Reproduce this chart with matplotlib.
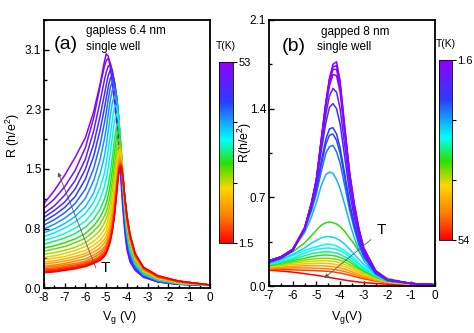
import numpy as np
import matplotlib.pyplot as plt
from matplotlib.colors import LinearSegmentedColormap, Normalize
from matplotlib.cm import ScalarMappable
from matplotlib.ticker import MultipleLocator

plt.rcParams['font.family'] = ['Liberation Sans', 'DejaVu Sans']
plt.rcParams['mathtext.default'] = 'regular'
plt.rcParams['axes.unicode_minus'] = False

# ---- data, panel (a): gapless 6.4 nm single well ----
vg_a = [-8, -7.5, -7, -6.5, -6, -5.6, -5.3, -5.1, -5.0, -4.9, -4.8, -4.7, -4.6,
        -4.5, -4.42, -4.35, -4.28, -4.2, -4.1, -4.0, -3.85, -3.6, -3.2, -2.5, -1.5, 0]
temps_a = [1.5, 2.5, 4, 5.5, 7, 8.5, 10, 12, 14, 16, 18, 20, 22, 24.5, 27, 29.5,
           32, 34.5, 37, 39.5, 42, 44.5, 47, 50, 53]
r_a = [
    [0.20, 0.21, 0.23, 0.25, 0.28, 0.32, 0.36, 0.41, 0.45, 0.52, 0.61, 0.75, 0.95, 1.22, 1.45, 1.57, 1.58, 1.45, 1.18, 0.95, 0.70, 0.45, 0.27, 0.16, 0.09, 0.04],
    [0.21, 0.22, 0.24, 0.26, 0.29, 0.33, 0.37, 0.42, 0.46, 0.53, 0.62, 0.76, 0.96, 1.23, 1.46, 1.58, 1.59, 1.45, 1.17, 0.94, 0.69, 0.44, 0.27, 0.16, 0.09, 0.04],
    [0.22, 0.23, 0.25, 0.27, 0.30, 0.34, 0.38, 0.43, 0.47, 0.54, 0.63, 0.77, 0.97, 1.24, 1.47, 1.59, 1.60, 1.46, 1.17, 0.93, 0.68, 0.44, 0.26, 0.15, 0.09, 0.04],
    [0.235, 0.245, 0.265, 0.285, 0.315, 0.355, 0.40, 0.45, 0.49, 0.56, 0.65, 0.79, 0.99, 1.26, 1.48, 1.60, 1.61, 1.46, 1.16, 0.92, 0.67, 0.43, 0.26, 0.15, 0.09, 0.04],
    [0.25, 0.26, 0.28, 0.30, 0.33, 0.37, 0.42, 0.47, 0.51, 0.58, 0.67, 0.81, 1.01, 1.28, 1.50, 1.61, 1.62, 1.46, 1.16, 0.91, 0.66, 0.42, 0.25, 0.15, 0.08, 0.04],
    [0.27, 0.28, 0.30, 0.32, 0.35, 0.40, 0.45, 0.50, 0.54, 0.61, 0.70, 0.84, 1.04, 1.31, 1.53, 1.63, 1.63, 1.47, 1.15, 0.90, 0.65, 0.42, 0.25, 0.14, 0.08, 0.04],
    [0.29, 0.30, 0.32, 0.35, 0.38, 0.43, 0.48, 0.53, 0.57, 0.64, 0.73, 0.87, 1.07, 1.34, 1.56, 1.66, 1.65, 1.48, 1.15, 0.89, 0.64, 0.41, 0.24, 0.14, 0.08, 0.04],
    [0.315, 0.33, 0.35, 0.38, 0.42, 0.47, 0.52, 0.58, 0.62, 0.69, 0.78, 0.92, 1.12, 1.39, 1.60, 1.69, 1.67, 1.49, 1.15, 0.88, 0.63, 0.40, 0.24, 0.14, 0.08, 0.04],
    [0.34, 0.355, 0.38, 0.41, 0.45, 0.51, 0.57, 0.63, 0.67, 0.75, 0.85, 0.99, 1.19, 1.45, 1.65, 1.73, 1.69, 1.49, 1.14, 0.87, 0.62, 0.40, 0.23, 0.13, 0.08, 0.04],
    [0.37, 0.39, 0.41, 0.45, 0.49, 0.56, 0.62, 0.69, 0.74, 0.82, 0.92, 1.07, 1.27, 1.52, 1.70, 1.77, 1.71, 1.50, 1.13, 0.86, 0.61, 0.39, 0.23, 0.13, 0.07, 0.04],
    [0.40, 0.42, 0.45, 0.49, 0.54, 0.61, 0.68, 0.76, 0.81, 0.90, 1.01, 1.16, 1.36, 1.60, 1.77, 1.81, 1.73, 1.50, 1.12, 0.85, 0.60, 0.38, 0.22, 0.13, 0.07, 0.04],
    [0.44, 0.46, 0.49, 0.53, 0.59, 0.67, 0.75, 0.84, 0.90, 0.99, 1.11, 1.27, 1.47, 1.70, 1.85, 1.86, 1.75, 1.50, 1.11, 0.84, 0.59, 0.37, 0.22, 0.12, 0.07, 0.04],
    [0.48, 0.51, 0.54, 0.59, 0.65, 0.74, 0.83, 0.93, 0.99, 1.09, 1.22, 1.39, 1.60, 1.82, 1.94, 1.93, 1.78, 1.50, 1.10, 0.82, 0.58, 0.36, 0.21, 0.12, 0.07, 0.04],
    [0.52, 0.55, 0.59, 0.64, 0.71, 0.81, 0.92, 1.03, 1.10, 1.21, 1.35, 1.54, 1.76, 1.97, 2.05, 1.99, 1.80, 1.49, 1.08, 0.80, 0.56, 0.35, 0.21, 0.12, 0.07, 0.04],
    [0.57, 0.61, 0.65, 0.71, 0.79, 0.90, 1.02, 1.15, 1.23, 1.35, 1.51, 1.71, 1.94, 2.12, 2.15, 2.04, 1.81, 1.48, 1.06, 0.78, 0.54, 0.34, 0.20, 0.11, 0.06, 0.04],
    [0.62, 0.66, 0.71, 0.78, 0.87, 1.00, 1.15, 1.31, 1.42, 1.57, 1.76, 1.97, 2.18, 2.27, 2.22, 2.07, 1.80, 1.45, 1.03, 0.76, 0.52, 0.33, 0.20, 0.11, 0.06, 0.04],
    [0.67, 0.72, 0.78, 0.86, 0.97, 1.12, 1.30, 1.48, 1.62, 1.80, 2.00, 2.20, 2.38, 2.36, 2.24, 2.05, 1.76, 1.40, 1.00, 0.73, 0.50, 0.32, 0.19, 0.11, 0.06, 0.04],
    [0.72, 0.77, 0.84, 0.93, 1.06, 1.24, 1.48, 1.70, 1.85, 2.05, 2.25, 2.42, 2.50, 2.44, 2.28, 2.05, 1.75, 1.38, 0.98, 0.71, 0.48, 0.31, 0.18, 0.10, 0.06, 0.04],
    [0.77, 0.83, 0.91, 1.01, 1.17, 1.40, 1.67, 1.92, 2.07, 2.27, 2.45, 2.58, 2.59, 2.50, 2.30, 2.04, 1.72, 1.34, 0.95, 0.68, 0.46, 0.29, 0.17, 0.10, 0.06, 0.04],
    [0.82, 0.89, 0.98, 1.10, 1.29, 1.56, 1.86, 2.13, 2.28, 2.46, 2.61, 2.69, 2.64, 2.50, 2.29, 2.01, 1.68, 1.30, 0.91, 0.65, 0.44, 0.28, 0.17, 0.09, 0.05, 0.04],
    [0.87, 0.95, 1.05, 1.19, 1.42, 1.72, 2.05, 2.32, 2.47, 2.62, 2.73, 2.77, 2.68, 2.50, 2.27, 1.98, 1.64, 1.26, 0.88, 0.62, 0.42, 0.27, 0.16, 0.09, 0.05, 0.04],
    [0.92, 1.01, 1.12, 1.29, 1.55, 1.88, 2.23, 2.50, 2.64, 2.77, 2.84, 2.81, 2.68, 2.47, 2.23, 1.94, 1.60, 1.22, 0.85, 0.60, 0.40, 0.26, 0.16, 0.09, 0.05, 0.04],
    [0.97, 1.07, 1.21, 1.40, 1.68, 2.05, 2.42, 2.69, 2.81, 2.89, 2.91, 2.83, 2.66, 2.43, 2.18, 1.88, 1.55, 1.18, 0.82, 0.57, 0.38, 0.25, 0.15, 0.08, 0.05, 0.04],
    [1.04, 1.16, 1.32, 1.53, 1.83, 2.22, 2.62, 2.87, 2.96, 2.99, 2.93, 2.78, 2.58, 2.33, 2.08, 1.80, 1.48, 1.12, 0.78, 0.54, 0.36, 0.24, 0.15, 0.08, 0.05, 0.04],
    [1.10, 1.27, 1.47, 1.70, 1.96, 2.30, 2.65, 2.93, 3.05, 3.02, 2.86, 2.66, 2.42, 2.15, 1.90, 1.64, 1.36, 1.04, 0.73, 0.50, 0.34, 0.23, 0.14, 0.08, 0.05, 0.04],
]

# ---- data, panel (b): gapped 8 nm single well ----
vg_b = [-7, -6.5, -6, -5.5, -5.2, -5.0, -4.8, -4.6, -4.45, -4.3, -4.15, -4.0,
        -3.8, -3.6, -3.4, -3.2, -3.0, -2.5, -2.0, -1.0, 0]
temps_b = [1.6, 2.2, 3.0, 4.0, 8, 10, 13, 14, 16, 20, 31, 22, 24, 25, 27, 30,
           34, 37, 40, 43, 46, 50, 54]
r_b = [
    [0.19, 0.22, 0.28, 0.45, 0.66, 0.84, 1.15, 1.45, 1.64, 1.75, 1.77, 1.62, 1.25, 0.90, 0.65, 0.45, 0.30, 0.12, 0.05, 0.02, 0.01],
    [0.19, 0.22, 0.28, 0.45, 0.66, 0.84, 1.15, 1.45, 1.63, 1.73, 1.74, 1.60, 1.24, 0.89, 0.64, 0.44, 0.30, 0.12, 0.05, 0.02, 0.01],
    [0.19, 0.22, 0.28, 0.45, 0.66, 0.84, 1.14, 1.44, 1.61, 1.71, 1.71, 1.57, 1.22, 0.88, 0.63, 0.44, 0.29, 0.12, 0.05, 0.02, 0.01],
    [0.19, 0.22, 0.28, 0.45, 0.66, 0.84, 1.13, 1.42, 1.58, 1.67, 1.66, 1.53, 1.19, 0.86, 0.62, 0.43, 0.29, 0.12, 0.05, 0.02, 0.01],
    [0.20, 0.23, 0.29, 0.46, 0.66, 0.83, 1.10, 1.36, 1.50, 1.56, 1.53, 1.40, 1.10, 0.80, 0.58, 0.40, 0.27, 0.11, 0.05, 0.02, 0.01],
    [0.20, 0.23, 0.29, 0.46, 0.65, 0.82, 1.06, 1.29, 1.41, 1.44, 1.40, 1.28, 1.01, 0.74, 0.54, 0.38, 0.26, 0.11, 0.05, 0.02, 0.01],
    [0.20, 0.23, 0.29, 0.45, 0.63, 0.78, 0.98, 1.16, 1.24, 1.25, 1.20, 1.09, 0.88, 0.66, 0.49, 0.35, 0.24, 0.10, 0.05, 0.02, 0.01],
    [0.20, 0.23, 0.29, 0.45, 0.62, 0.76, 0.95, 1.12, 1.19, 1.20, 1.15, 1.05, 0.85, 0.64, 0.47, 0.34, 0.24, 0.10, 0.05, 0.02, 0.01],
    [0.20, 0.23, 0.29, 0.44, 0.60, 0.73, 0.90, 1.05, 1.10, 1.11, 1.06, 0.97, 0.79, 0.60, 0.45, 0.32, 0.23, 0.10, 0.04, 0.02, 0.01],
    [0.20, 0.23, 0.29, 0.42, 0.55, 0.66, 0.79, 0.88, 0.90, 0.89, 0.84, 0.77, 0.64, 0.50, 0.38, 0.28, 0.20, 0.09, 0.04, 0.02, 0.01],
    [0.19, 0.22, 0.27, 0.34, 0.40, 0.44, 0.48, 0.50, 0.505, 0.50, 0.49, 0.47, 0.43, 0.38, 0.33, 0.27, 0.22, 0.12, 0.06, 0.02, 0.01],
    [0.18, 0.21, 0.25, 0.30, 0.34, 0.36, 0.38, 0.39, 0.39, 0.385, 0.375, 0.36, 0.33, 0.29, 0.25, 0.21, 0.17, 0.10, 0.05, 0.02, 0.01],
    [0.18, 0.20, 0.24, 0.28, 0.30, 0.31, 0.32, 0.33, 0.33, 0.325, 0.315, 0.30, 0.28, 0.25, 0.22, 0.18, 0.15, 0.09, 0.05, 0.02, 0.01],
    [0.17, 0.19, 0.22, 0.26, 0.28, 0.29, 0.295, 0.30, 0.30, 0.295, 0.29, 0.28, 0.26, 0.23, 0.20, 0.17, 0.14, 0.08, 0.04, 0.02, 0.01],
    [0.17, 0.19, 0.21, 0.24, 0.255, 0.262, 0.268, 0.27, 0.27, 0.265, 0.26, 0.25, 0.23, 0.21, 0.18, 0.15, 0.13, 0.08, 0.04, 0.02, 0.01],
    [0.16, 0.18, 0.20, 0.22, 0.232, 0.238, 0.243, 0.245, 0.244, 0.24, 0.235, 0.225, 0.21, 0.19, 0.165, 0.14, 0.12, 0.07, 0.04, 0.02, 0.01],
    [0.16, 0.17, 0.19, 0.205, 0.212, 0.216, 0.219, 0.22, 0.219, 0.216, 0.211, 0.203, 0.19, 0.17, 0.15, 0.13, 0.11, 0.07, 0.04, 0.02, 0.01],
    [0.15, 0.16, 0.18, 0.19, 0.195, 0.198, 0.20, 0.20, 0.198, 0.195, 0.19, 0.183, 0.17, 0.155, 0.135, 0.115, 0.10, 0.06, 0.035, 0.015, 0.01],
    [0.15, 0.16, 0.17, 0.175, 0.178, 0.18, 0.18, 0.179, 0.177, 0.174, 0.169, 0.163, 0.152, 0.138, 0.12, 0.105, 0.09, 0.055, 0.03, 0.015, 0.01],
    [0.14, 0.15, 0.155, 0.16, 0.161, 0.161, 0.16, 0.158, 0.156, 0.153, 0.149, 0.143, 0.133, 0.12, 0.105, 0.09, 0.078, 0.05, 0.03, 0.015, 0.01],
    [0.135, 0.14, 0.143, 0.143, 0.142, 0.141, 0.139, 0.137, 0.135, 0.132, 0.128, 0.123, 0.114, 0.103, 0.09, 0.078, 0.067, 0.045, 0.027, 0.013, 0.01],
    [0.13, 0.13, 0.128, 0.125, 0.123, 0.121, 0.119, 0.117, 0.115, 0.112, 0.108, 0.103, 0.095, 0.086, 0.076, 0.066, 0.057, 0.04, 0.025, 0.012, 0.01],
    [0.125, 0.118, 0.11, 0.098, 0.09, 0.085, 0.079, 0.073, 0.068, 0.063, 0.058, 0.053, 0.047, 0.041, 0.036, 0.031, 0.027, 0.02, 0.015, 0.01, 0.008],
]

yticks_a = [0, 0.775, 1.55, 2.325, 3.1]
ylabels_a = ['0.0', '0.8', '1.5', '2.3', '3.1']
yticks_b = [0, 0.7, 1.4, 2.1]
ylabels_b = ['0.0', '0.7', '1.4', '2.1']

# Origin-like rainbow, red (low) -> purple (high)
cmap = LinearSegmentedColormap.from_list('orig_rainbow', [
    (0.0, '#ff0000'), (0.15, '#ff8000'), (0.30, '#ffd400'), (0.44, '#28e000'),
    (0.57, '#00ffff'), (0.78, '#2a3cff'), (1.0, '#9000ff')])
cmap_b = cmap.reversed()
norm_a = Normalize(1.5, 53)
norm_b = Normalize(1.6, 54)

fig = plt.figure(figsize=(4.74, 3.33), dpi=100)
ax_a = fig.add_axes([0.0928, 0.135, 0.350, 0.805])
ax_b = fig.add_axes([0.5675, 0.141, 0.350, 0.799])
cax_a = fig.add_axes([0.462, 0.270, 0.0295, 0.544])
cax_b = fig.add_axes([0.926, 0.279, 0.0274, 0.541])

# 1) curves (high T first, low T on top)
for T, r in zip(temps_a[::-1], r_a[::-1]):
    ax_a.plot(vg_a, r, color=cmap(norm_a(T)), lw=1.1)
for T, r in zip(temps_b[::-1], r_b[::-1]):
    ax_b.plot(vg_b, r, color=cmap_b(norm_b(T)), lw=1.1)

# 2) axes styling
for ax in (ax_a, ax_b):
    for s in ax.spines.values():
        s.set_linewidth(1.3)
    ax.tick_params(which='both', direction='in', labelsize=8.5, width=1.0, pad=2)
    ax.tick_params(axis='x', which='both', pad=3)
    ax.tick_params(which='major', length=3.5)
    ax.tick_params(which='minor', length=2)
    ax.xaxis.set_minor_locator(MultipleLocator(0.5))

ax_a.set_xlim(-8, 0)
ax_a.set_ylim(0, 3.49)
ax_a.set_xticks(range(-8, 1))
ax_a.set_yticks(yticks_a)
ax_a.set_yticklabels(ylabels_a)
ax_a.yaxis.set_minor_locator(MultipleLocator(0.3875))
ax_a.set_xlabel('V$_g$ (V)', fontsize=9)
ax_a.set_ylabel('R (h/e$^2$)', fontsize=9)
ax_a.xaxis.set_label_coords(0.458, -0.08)
ax_a.yaxis.set_label_coords(-0.13, 0.567)

ax_b.set_xlim(-7, 0)
ax_b.set_ylim(0, 2.1)
ax_b.set_xticks(range(-7, 1))
ax_b.set_yticks(yticks_b)
ax_b.set_yticklabels(ylabels_b)
ax_b.yaxis.set_minor_locator(MultipleLocator(0.35))
ax_b.set_xlabel('V$_g$(V)', fontsize=9)
ax_b.set_ylabel('R(h/e$^2$)', fontsize=9)
ax_b.xaxis.set_label_coords(0.47, -0.085)
ax_b.yaxis.set_label_coords(-0.09, 0.54)

# 3) annotations
ax_a.text(0.06, 0.91, '(a)', transform=ax_a.transAxes, fontsize=14, va='center')
ax_a.text(0.253, 0.959, 'gapless 6.4 nm', transform=ax_a.transAxes, fontsize=8.5, va='center')
ax_a.text(0.253, 0.90, 'single well', transform=ax_a.transAxes, fontsize=8.5, va='center')
ax_a.annotate('', xy=(-7.37, 1.54), xytext=(-5.45, 0.23),
              arrowprops=dict(arrowstyle='-|>', color='0.35', lw=0.6, mutation_scale=6))
ax_a.text(-5.25, 0.26, 'T', fontsize=11, va='center')

ax_b.text(0.078, 0.90, '(b)', transform=ax_b.transAxes, fontsize=14, va='center')
ax_b.text(0.313, 0.955, 'gapped 8 nm', transform=ax_b.transAxes, fontsize=8.5, va='center')
ax_b.text(0.289, 0.898, 'single well', transform=ax_b.transAxes, fontsize=8.5, va='center')
ax_b.annotate('', xy=(-4.76, 0.05), xytext=(-2.61, 0.38),
              arrowprops=dict(arrowstyle='-|>', color='0.35', lw=0.6, mutation_scale=6))
ax_b.text(-2.45, 0.44, 'T', fontsize=11, va='center')

# 4) colorbars
for cax, cm, nrm, lo, hi in ((cax_a, cmap, norm_a, '1.5', '53'),
                             (cax_b, cmap_b, norm_b, '1.6', '54')):
    sm = ScalarMappable(norm=nrm, cmap=cm)
    cb = fig.colorbar(sm, cax=cax)
    cb.outline.set_linewidth(0.6)
    v0, v1 = nrm.vmin, nrm.vmax
    cb.set_ticks([v0, v0 + (v1 - v0) / 3, v0 + 2 * (v1 - v0) / 3, v1])
    cb.set_ticklabels([lo, '', '', hi])
    cax.tick_params(labelsize=8, length=3, width=0.8, pad=1)
    cax.minorticks_off()
    cax.text(0.5, 1.06, 'T(K)', transform=cax.transAxes, ha='center', va='bottom', fontsize=7.5)
cax_b.invert_yaxis()

fig.savefig('out.png', dpi=100)
